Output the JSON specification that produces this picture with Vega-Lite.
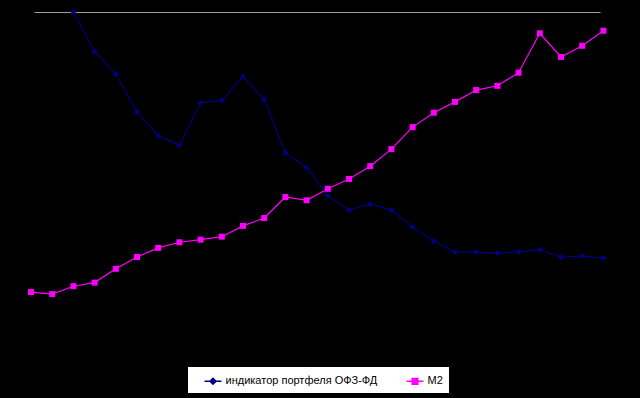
{
  "$schema": "https://vega.github.io/schema/vega-lite/v6.json",
  "width": 566,
  "height": 328,
  "autosize": {"type": "none"},
  "padding": {"left": 34, "top": 12, "right": 40, "bottom": 58},
  "background": "black",
  "config": {"view": {"stroke": null}},
  "data": {"values": [
    {"period": 1, "series": "M2", "value": 14.6},
    {"period": 2, "series": "M2", "value": 14.0},
    {"period": 3, "series": "M2", "value": 16.4},
    {"period": 4, "series": "M2", "value": 17.5},
    {"period": 5, "series": "M2", "value": 21.7},
    {"period": 6, "series": "M2", "value": 25.3},
    {"period": 7, "series": "M2", "value": 28.1},
    {"period": 8, "series": "M2", "value": 29.8},
    {"period": 9, "series": "M2", "value": 30.6},
    {"period": 10, "series": "M2", "value": 31.5},
    {"period": 11, "series": "M2", "value": 34.8},
    {"period": 12, "series": "M2", "value": 37.2},
    {"period": 13, "series": "M2", "value": 43.6},
    {"period": 14, "series": "M2", "value": 42.6},
    {"period": 15, "series": "M2", "value": 46.1},
    {"period": 16, "series": "M2", "value": 49.1},
    {"period": 17, "series": "M2", "value": 53.0},
    {"period": 18, "series": "M2", "value": 58.2},
    {"period": 19, "series": "M2", "value": 64.9},
    {"period": 20, "series": "M2", "value": 69.3},
    {"period": 21, "series": "M2", "value": 72.6},
    {"period": 22, "series": "M2", "value": 76.2},
    {"period": 23, "series": "M2", "value": 77.5},
    {"period": 24, "series": "M2", "value": 81.5},
    {"period": 25, "series": "M2", "value": 93.5},
    {"period": 26, "series": "M2", "value": 86.3},
    {"period": 27, "series": "M2", "value": 89.7},
    {"period": 28, "series": "M2", "value": 94.3},
    {"period": 3, "series": "индикатор портфеля ОФЗ-ФД", "value": 100.0},
    {"period": 4, "series": "индикатор портфеля ОФЗ-ФД", "value": 87.9},
    {"period": 5, "series": "индикатор портфеля ОФЗ-ФД", "value": 81.0},
    {"period": 6, "series": "индикатор портфеля ОФЗ-ФД", "value": 69.5},
    {"period": 7, "series": "индикатор портфеля ОФЗ-ФД", "value": 62.3},
    {"period": 8, "series": "индикатор портфеля ОФЗ-ФД", "value": 59.4},
    {"period": 9, "series": "индикатор портфеля ОФЗ-ФД", "value": 72.3},
    {"period": 10, "series": "индикатор портфеля ОФЗ-ФД", "value": 73.0},
    {"period": 11, "series": "индикатор портфеля ОФЗ-ФД", "value": 80.4},
    {"period": 12, "series": "индикатор портфеля ОФЗ-ФД", "value": 73.3},
    {"period": 13, "series": "индикатор портфеля ОФЗ-ФД", "value": 57.0},
    {"period": 14, "series": "индикатор портфеля ОФЗ-ФД", "value": 52.7},
    {"period": 15, "series": "индикатор портфеля ОФЗ-ФД", "value": 44.0},
    {"period": 16, "series": "индикатор портфеля ОФЗ-ФД", "value": 39.6},
    {"period": 17, "series": "индикатор портфеля ОФЗ-ФД", "value": 41.4},
    {"period": 18, "series": "индикатор портфеля ОФЗ-ФД", "value": 39.6},
    {"period": 19, "series": "индикатор портфеля ОФЗ-ФД", "value": 34.4},
    {"period": 20, "series": "индикатор портфеля ОФЗ-ФД", "value": 30.1},
    {"period": 21, "series": "индикатор портфеля ОФЗ-ФД", "value": 26.8},
    {"period": 22, "series": "индикатор портфеля ОФЗ-ФД", "value": 26.8},
    {"period": 23, "series": "индикатор портфеля ОФЗ-ФД", "value": 26.5},
    {"period": 24, "series": "индикатор портфеля ОФЗ-ФД", "value": 26.9},
    {"period": 25, "series": "индикатор портфеля ОФЗ-ФД", "value": 27.5},
    {"period": 26, "series": "индикатор портфеля ОФЗ-ФД", "value": 25.3},
    {"period": 27, "series": "индикатор портфеля ОФЗ-ФД", "value": 25.6},
    {"period": 28, "series": "индикатор портфеля ОФЗ-ФД", "value": 24.9}
  ]},
  "encoding": {
    "x": {"field": "period", "type": "quantitative",
      "scale": {"domain": [1.14, 27.84], "nice": false, "zero": false},
      "axis": {"orient": "top", "title": null, "labels": false, "ticks": false, "grid": false, "domain": true, "domainColor": "#a0a0a0", "domainWidth": 1}},
    "y": {"field": "value", "type": "quantitative",
      "scale": {"domain": [0, 100], "nice": false, "zero": false},
      "axis": null},
    "color": {"field": "series", "type": "nominal",
      "scale": {"domain": ["индикатор портфеля ОФЗ-ФД", "M2"], "range": ["#000080", "#ff00ff"]},
      "legend": {
        "orient": "none", "direction": "horizontal", "title": null,
        "legendX": 153, "legendY": 354,
        "fillColor": "white", "strokeColor": "black",
        "padding": 5.5, "symbolOffset": 11,
        "symbolSize": 289, "symbolStrokeWidth": 1.5,
        "labelOffset": 3, "columnPadding": 17,
        "labelFont": "Liberation Sans", "labelFontSize": 11, "labelColor": "black",
        "labelLimit": 400,
        "encode": {"symbols": {"update": {
          "shape": {"signal": "datum.value === 'M2' ? 'M-1,0H1M-0.33,-0.33H0.33V0.33H-0.33Z' : 'M-1,0H1M0,-0.35L0.35,0L0,0.35L-0.35,0Z'"},
          "fill": {"signal": "scale('color', datum.value)"},
          "stroke": {"signal": "scale('color', datum.value)"},
          "opacity": {"value": 1}
        }}}
      }}
  },
  "layer": [
    {"mark": {"type": "line", "strokeWidth": 1.2, "clip": false}},
    {"transform": [{"filter": "datum.series !== 'M2'"}],
      "mark": {"type": "point", "shape": "diamond", "filled": true, "opacity": 1, "size": 36, "clip": false}},
    {"transform": [{"filter": "datum.series === 'M2'"}],
      "mark": {"type": "point", "shape": "square", "filled": true, "opacity": 1, "size": 36, "clip": false}}
  ]
}
